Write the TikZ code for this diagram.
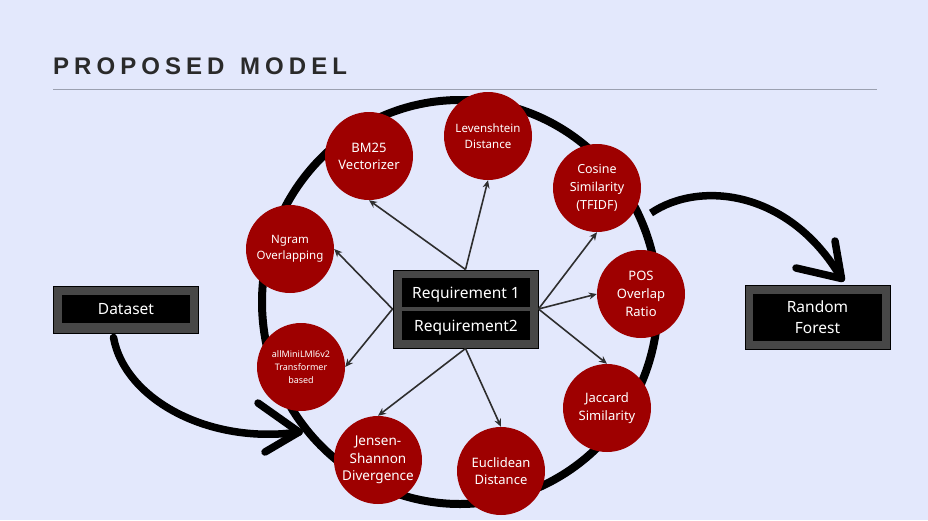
\documentclass[tikz,border=0pt]{standalone}
\usepackage{fontspec}
\setmainfont{Noto Sans}
\newfontfamily\titlefont[LetterSpace=21]{Liberation Sans}
\usetikzlibrary{arrows.meta}
\definecolor{pagebg}{HTML}{E3E8FC}
\definecolor{metricred}{HTML}{9E0000}
\definecolor{framegray}{HTML}{474747}
\definecolor{linkgray}{HTML}{2E2E2E}
\definecolor{titleink}{HTML}{2A2A2A}
\definecolor{rulegray}{HTML}{9BA0B0}
\tikzset{
  metric/.style={circle, fill=metricred, minimum size=88pt, inner sep=0pt,
    text=white, align=center},
  frame/.style={rectangle, fill=framegray, draw=black, line width=1pt, inner sep=0pt},
  slab/.style={rectangle, fill=black, inner sep=0pt, text=white, align=center,
    font=\fontsize{15.5}{21}\selectfont},
  oneline/.style={text height=12.5pt, text depth=1.5pt},
  link/.style={draw=linkgray, line width=1.6pt, -{Stealth[length=8pt,width=7pt]}},
  brush/.style={draw=black, line width=7.5pt, line cap=round},
}
\begin{document}
\begin{tikzpicture}[x=1pt,y=-1pt]
  % page
  \fill[pagebg] (0,0) rectangle (928,520);
  \useasboundingbox (0,0) rectangle (928,520);

  % heading
  \node[anchor=base west, inner sep=0pt, text=titleink,
    font=\titlefont\bfseries\fontsize{24}{28}\selectfont] (title) at (53,74) {PROPOSED\hspace{4pt} MODEL};
  \draw[rulegray, line width=1.2pt] (53,89.5) -- (877,89.5);

  % the ring of similarity measures
  \draw[black, line width=8pt] (460,302) ellipse [x radius=198, y radius=202];

  % measures
  \node[metric, font=\fontsize{13}{17}\selectfont] (bm25) at (369,156) {BM25\\Vectorizer};
  \node[metric, font=\fontsize{11.5}{16}\selectfont] (lev) at (488,136) {Levenshtein\\Distance};
  \node[metric, font=\fontsize{12.5}{18}\selectfont] (cos) at (597,188) {Cosine\\Similarity\\(TFIDF)};
  \node[metric, font=\fontsize{11.5}{16}\selectfont] (ngram) at (290,249) {Ngram\\Overlapping};
  \node[metric, font=\fontsize{13}{18}\selectfont] (pos) at (641,294) {POS\\Overlap\\Ratio};
  \node[metric, font=\fontsize{9}{13}\selectfont] (mini) at (301,367) {allMiniLMl6v2\\Transformer\\based};
  \node[metric, font=\fontsize{13}{18}\selectfont] (jac) at (607,408) {Jaccard\\Similarity};
  \node[metric, font=\fontsize{13.5}{17.5}\selectfont] (jen) at (378,460) {Jensen-\\Shannon\\Divergence};
  \node[metric, font=\fontsize{13}{17}\selectfont] (euc) at (501,471) {Euclidean\\Distance};

  % requirement pair
  \node[frame, minimum width=145pt, minimum height=78pt] (req) at (465.5,309) {};
  \node[slab, oneline, minimum width=128pt, minimum height=29pt] (r1) at (466,292.5) {Requirement 1};
  \node[slab, oneline, minimum width=128pt, minimum height=29pt] (r2) at (466,325.5) {Requirement2};

  % input and classifier
  \node[frame, minimum width=145pt, minimum height=47pt] (ds) at (125.5,309.5) {};
  \node[slab, oneline, minimum width=128pt, minimum height=28pt] (dsin) at (126,309) {Dataset};
  \node[frame, minimum width=145pt, minimum height=64pt] (rf) at (817.5,317) {};
  \node[slab, minimum width=129pt, minimum height=47pt] (rfin) at (817.5,317.5) {Random\\Forest};

  % links from the requirement pair to each measure
  \draw[link] (req.north) -- (bm25.south);
  \draw[link] (req.north) -- (lev.south);
  \draw[link] (req.east) -- (cos.south);
  \draw[link] (req.east) -- (pos.west);
  \draw[link] (req.east) -- (jac.north);
  \draw[link] (req.west) -- (ngram.east);
  \draw[link] (req.west) -- (mini.east);
  \draw[link] (req.south) -- (jen.north);
  \draw[link] (req.south) -- (euc.north);

  % brush arrow: dataset into the ring
  \coordinate (dsTip) at (299,432);
  \draw[brush] ([xshift=-12pt,yshift=-4pt]ds.south) .. controls (125,400) and (210,445) .. (dsTip);
  \draw[brush] (258,403) -- (dsTip);
  \draw[brush] (265,452) -- (dsTip);

  % brush arrow: ring out to the classifier
  \coordinate (rfTip) at ([xshift=24pt,yshift=6pt]rf.north);
  \coordinate (ringOut) at (651,213);
  \draw[brush, line cap=butt] (ringOut) .. controls (700,180) and (790,190) .. (rfTip);
  \draw[brush] (835,241) -- (rfTip);
  \draw[brush] (796,268) -- (rfTip);
\end{tikzpicture}
\end{document}
